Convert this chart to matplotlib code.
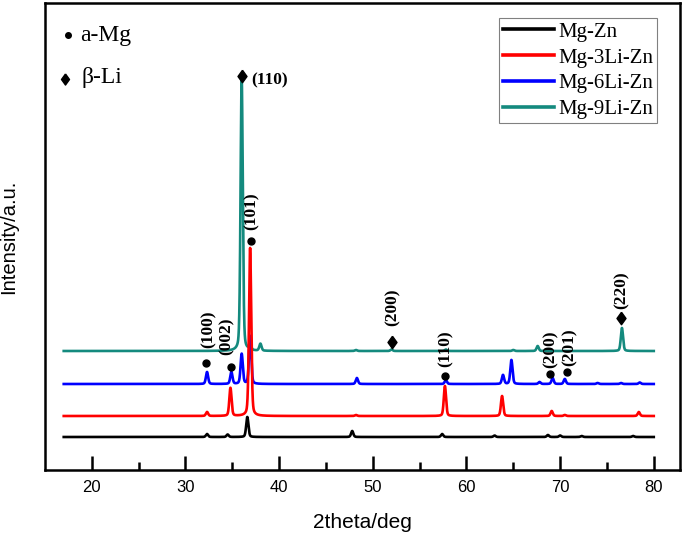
import numpy as np
import matplotlib
matplotlib.use("Agg")
import matplotlib.pyplot as plt
from matplotlib.lines import Line2D

# ---------------- data ----------------
series_names = ["Mg-Zn", "Mg-3Li-Zn", "Mg-6Li-Zn", "Mg-9Li-Zn"]
series_colors = ["#000000", "#ff0000", "#0000ff", "#148a7e"]
baselines = [33, 54, 86, 119]

mgzn_pos = [32.3, 34.5, 36.6, 47.8, 57.4, 63.0, 68.7, 70.0, 72.3, 77.8]
mgzn_h = [3, 2.5, 20, 6, 3, 1.5, 2, 1.5, 1, 1]

mg3_pos = [32.3, 34.8, 36.9, 48.2, 57.7, 63.8, 69.1, 70.5, 78.4]
mg3_h = [4, 28, 168, 1, 30, 20, 5, 1, 4]

mg6_pos = [32.3, 34.9, 36.0, 36.9, 48.3, 57.8, 63.9, 64.8, 67.8, 69.2, 70.5, 74.0, 76.5, 78.5]
mg6_h = [12, 12, 30, 48, 6, 4, 9, 24, 2, 6, 5, 1, 1, 1.5]

mg9_pos = [36.0, 36.9, 38.0, 48.2, 52.0, 57.8, 65.0, 67.6, 76.6]
mg9_h = [273, 5, 7, 1, 1.5, 1.5, 1, 5, 23]

peak_pos = [mgzn_pos, mg3_pos, mg6_pos, mg9_pos]
peak_h = [mgzn_h, mg3_h, mg6_h, mg9_h]

x_start, x_end = 17.0, 80.0

# phase markers and hkl labels
alpha_marks_x = [37.0, 32.24, 34.83, 57.67, 68.95, 70.73]
alpha_marks_y = [229, 107, 103, 94, 96, 98]
beta_marks_x = [36.0, 52.05, 76.53]
beta_marks_y = [394, 128, 152]

hkl_text = ["(101)", "(100)", "(002)", "(200)", "(110)", "(200)", "(201)", "(220)"]
hkl_x = [37.04, 32.5, 34.4, 52.1, 57.75, 69.0, 71.0, 76.53]
hkl_y = [259, 141, 134, 163, 121, 121, 123, 180]

top_label = "(110)"
top_label_x, top_label_y = 36.97, 390

x_ticks = [20, 30, 40, 50, 60, 70, 80]

# ---------------- figure ----------------
fig = plt.figure(figsize=(6.85, 5.36), dpi=100)
ax = fig.add_axes([45 / 685, 66 / 536, 635 / 685, 467 / 536])

x = np.arange(x_start, x_end + 0.005, 0.01)
fwhm = 0.28


def pattern(base, pos, h):
    y = np.full_like(x, float(base))
    for c, hh in zip(pos, h):
        g = np.exp(-4 * np.log(2) * ((x - c) / fwhm) ** 2)
        l = 1.0 / (1 + 4 * ((x - c) / fwhm) ** 2)
        y += hh * (0.7 * g + 0.3 * l)
    return y


zorders = [2, 5, 4, 3]
for i in range(4):
    ax.plot(x, pattern(baselines[i], peak_pos[i], peak_h[i]),
            color=series_colors[i], lw=1.9, zorder=zorders[i])

diamond = [(0, 1), (0.72, 0), (0, -1), (-0.72, 0), (0, 1)]

ax.plot(alpha_marks_x, alpha_marks_y, 'o', color='black', ms=5, zorder=6)
ax.plot(beta_marks_x, beta_marks_y, marker=diamond, ls='none', color='black',
        ms=9, zorder=6)

serif = ["Liberation Serif", "DejaVu Serif"]
for t, tx, ty in zip(hkl_text, hkl_x, hkl_y):
    ax.text(tx, ty, t, rotation=90, ha='center', va='center',
            family=serif, fontweight='bold', fontsize=12.5)
ax.text(top_label_x, top_label_y, top_label, ha='left', va='center',
        family=serif, fontweight='bold', fontsize=12.5)

# phase key at top left
ax.plot([17.45], [435], 'o', color='black', ms=4, zorder=6)
ax.plot([17.1], [391], marker=diamond, ls='none', color='black', ms=8, zorder=6)
ax.text(18.7, 434, "a-Mg", ha='left', va='center', family=serif, fontsize=17)
ax.text(18.9, 392, "β-Li", ha='left', va='center', family=serif, fontsize=17)

ax.set_xlim(15.0, 82.8)
ax.set_ylim(0, 467)
ax.set_yticks([])
ax.set_xticks(x_ticks)
ax.set_xticks([25, 35, 45, 55, 65, 75], minor=True)
ax.tick_params(axis='x', which='major', direction='in', length=10, width=1.8,
               labelsize=12, pad=7)
ax.tick_params(axis='x', which='minor', direction='in', length=6, width=1.8)
for tl in ax.get_xticklabels():
    tl.set_family(["Liberation Sans", "DejaVu Sans"])
for s in ax.spines.values():
    s.set_linewidth(1.8)

ax.set_xlabel("2theta/deg", family=["Liberation Sans", "DejaVu Sans"],
              fontsize=15, labelpad=13)
ax.set_ylabel("Intensity/a.u.", family=["Liberation Sans", "DejaVu Sans"],
              fontsize=14.5, labelpad=19)

handles = [Line2D([0], [0], color=c, lw=2.6) for c in series_colors]
leg = ax.legend(handles, series_names, loc='upper right',
                bbox_to_anchor=(0.964, 0.968), borderaxespad=0,
                prop={'family': serif, 'size': 15}, frameon=True,
                fancybox=False, framealpha=1, edgecolor='#808080',
                handlelength=2.45, handletextpad=0.2, labelspacing=0.3,
                borderpad=0.2)
leg.get_frame().set_linewidth(0.8)

fig.savefig("out.png", dpi=100)
